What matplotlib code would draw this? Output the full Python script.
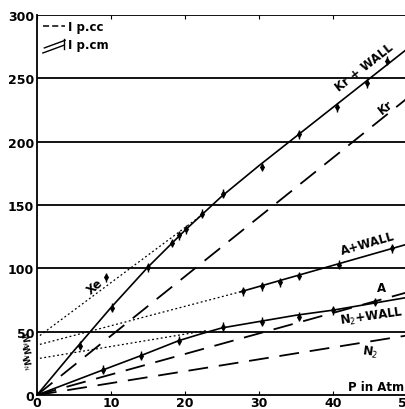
import numpy as np
import matplotlib
matplotlib.use("Agg")
import matplotlib.pyplot as plt

# measured points (P in atm, current)
kr_wall_px = [5.8, 10.1, 15.0, 18.2, 19.2, 20.2, 22.3, 25.2, 30.4, 35.4, 40.5, 44.6, 47.3]
kr_wall_py = [39, 69, 101, 120, 126, 131, 143, 159, 180, 206, 227, 246, 264]
a_wall_px = [27.8, 30.4, 32.8, 35.4, 40.9, 48.0]
a_wall_py = [82, 86, 89, 94, 103, 116]
n2_wall_px = [8.9, 14.0, 19.2, 25.1, 30.4, 35.4, 40.0, 45.7]
n2_wall_py = [20, 31, 43, 54, 58, 62, 67, 73.5]
xe_px = [9.4]
xe_py = [93]

# fitted curves (I per cm, with wall)
kr_wall_x = [0, 5, 10, 15, 20, 25, 30, 35, 40, 45, 50]
kr_wall_y = [0, 35, 69, 101, 130, 157, 181, 204, 227, 250, 273]
a_wall_x = [27.5, 50]
a_wall_y = [81.5, 119]
n2_wall_x = [0, 9, 14, 19.2, 22, 25, 30, 35, 40, 45, 50]
n2_wall_y = [0, 20, 31, 43, 48, 53, 58, 63, 67, 72, 77]

# I per cc (dashed)
kr_x, kr_y = [0, 50], [0, 234]
a_x, a_y = [0, 50], [0, 81]
n2_x, n2_y = [0, 50], [0, 47]

# extrapolations to P = 0 (dotted)
kr_ext_x, kr_ext_y = [0.4, 22.5], [47, 143]
a_ext_x, a_ext_y = [0.4, 27.5], [40, 81.5]
n2_ext_x, n2_ext_y = [0.4, 23], [29, 51]

fig = plt.figure(figsize=(4.06, 4.10), dpi=100)
ax = fig.add_axes([0.091, 0.034, 0.911, 0.927])
ax.set_xlim(0, 50)
ax.set_ylim(0, 300)

for y in [50, 100, 150, 200, 250, 300]:
    ax.axhline(y, color="black", lw=1.3, zorder=1)

dash = (0, (11, 6))
dot = (0, (1.5, 2))
ax.plot(kr_wall_x, kr_wall_y, color="black", lw=1.2)
ax.plot(a_wall_x, a_wall_y, color="black", lw=1.2)
ax.plot(n2_wall_x, n2_wall_y, color="black", lw=1.2)
ax.plot(kr_x, kr_y, color="black", lw=1.3, linestyle=dash)
ax.plot(a_x, a_y, color="black", lw=1.3, linestyle=dash)
ax.plot(n2_x, n2_y, color="black", lw=1.3, linestyle=dash)
ax.plot(kr_ext_x, kr_ext_y, color="black", lw=0.9, linestyle=dot)
ax.plot(a_ext_x, a_ext_y, color="black", lw=0.9, linestyle=dot)
ax.plot(n2_ext_x, n2_ext_y, color="black", lw=0.9, linestyle=dot)

for px, py in [(kr_wall_px, kr_wall_py), (a_wall_px, a_wall_py),
               (n2_wall_px, n2_wall_py), (xe_px, xe_py)]:
    ax.errorbar(px, py, yerr=3.5, fmt="d", ms=3, color="black",
                elinewidth=1, capsize=0)

tk = dict(color="black", fontweight="bold", fontsize=8.5, ha="center", va="center")
ax.text(44.3, 259, "Kr + WALL", rotation=38, **tk)
ax.text(47.2, 228, "Kr", rotation=38, **tk)
ax.text(44.7, 120, "A+WALL", rotation=16, **tk)
ax.text(46.6, 85, "A", **tk)
ax.text(45.3, 62, "N$_2$+WALL", rotation=8, **tk)
ax.text(45.0, 34, "N$_2$", rotation=-8, **tk)
ax.text(49.6, 7, "P in Atm", color="black", fontweight="bold", fontsize=8.5,
        ha="right", va="center")
ax.text(7.8, 86, "Xe", rotation=40, **tk)
wk = dict(rotation=-70, fontsize=6, fontweight="bold", ha="center", va="center")
ax.text(-1.6, 43, "W$_{Kr}$", **wk)
ax.text(-1.6, 35, "W$_A$", **wk)
ax.text(-1.6, 26, "W$_N$", **wk)

# legend drawn by hand
ax.plot([0.8, 3.8], [291, 291], color="black", lw=1.1, linestyle=(0, (4, 2)))
ax.text(4.2, 291, "I p.cc", fontsize=8.5, fontweight="bold", va="center", ha="left")
ax.plot([0.8, 3.6], [270, 276], color="black", lw=1.0)
ax.plot([1.0, 3.8], [274, 280], color="black", lw=1.0)
ax.plot([3.6, 3.6], [273, 281], color="black", lw=1.0)
ax.text(4.2, 277, "I p.cm", fontsize=8.5, fontweight="bold", va="center", ha="left")

ax.spines["right"].set_visible(False)
ax.spines["top"].set_visible(False)
for s in ["left", "bottom"]:
    ax.spines[s].set_linewidth(1.3)
ax.set_xticks([0, 10, 20, 30, 40, 50])
ax.set_yticks([0, 50, 100, 150, 200, 250, 300])
ax.tick_params(axis="both", direction="in", length=3, pad=1, labelsize=9)
ax.tick_params(axis="y", length=0, pad=2)
ax.tick_params(axis="x", top=True)
for lab in ax.get_xticklabels() + ax.get_yticklabels():
    lab.set_fontweight("bold")

fig.savefig("out.png", dpi=100)
